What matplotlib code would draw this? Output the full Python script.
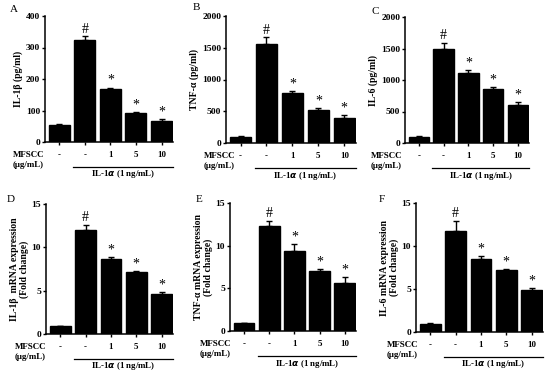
import matplotlib
matplotlib.use("Agg")
import matplotlib.pyplot as plt
import numpy as np

plt.rcParams['font.family'] = ['Liberation Serif', 'DejaVu Serif']
plt.rcParams['font.weight'] = 'bold'
plt.rcParams['mathtext.fontset'] = 'custom'

W, H = 550, 374
fig = plt.figure(figsize=(W / 100, H / 100), dpi=100)

dose_labels = ['-', '-', '1', '5', '10']

il1b_pg = [55, 323, 167, 92, 68]
il1b_pg_err = [3, 13, 6, 3, 5]
tnf_pg = [100, 1555, 790, 520, 392]
tnf_pg_err = [5, 110, 30, 35, 50]
il6_pg = [100, 1490, 1110, 860, 600]
il6_pg_err = [5, 100, 50, 25, 50]
il1b_mrna = [0.9, 12.0, 8.6, 7.1, 4.6]
il1b_mrna_err = [0.05, 0.6, 0.3, 0.12, 0.25]
tnf_mrna = [0.9, 12.3, 9.4, 7.0, 5.6]
tnf_mrna_err = [0.05, 0.6, 0.8, 0.3, 0.7]
il6_mrna = [0.9, 11.8, 8.5, 7.2, 4.9]
il6_mrna_err = [0.1, 1.1, 0.3, 0.15, 0.2]

sig_marks = ['', '#', '*', '*', '*']

panels = [
    ('A', il1b_pg, il1b_pg_err, 'IL-1β (pg/ml)', [0, 100, 200, 300, 400], (45, 16, 173, 142), (10, 10), 13),
    ('B', tnf_pg, tnf_pg_err, 'TNF-α (pg/ml)', [0, 500, 1000, 1500, 2000], (226, 16, 356, 143), (193, 8), 204),
    ('C', il6_pg, il6_pg_err, 'IL-6 (pg/ml)', [0, 500, 1000, 1500, 2000], (405, 17, 529, 143), (371, 11), 371),
    ('D', il1b_mrna, il1b_mrna_err, 'IL-1β  mRNA expression\n(Fold change)', [0, 5, 10, 15], (46, 204, 173, 334), (7, 200), 15),
    ('E', tnf_mrna, tnf_mrna_err, 'TNF-α mRNA expression\n(Fold change)', [0, 5, 10, 15], (230, 203, 356, 331), (196, 200), 200),
    ('F', il6_mrna, il6_mrna_err, 'IL-6 mRNA expression\n(Fold change)', [0, 5, 10, 15], (416, 203, 543, 332), (379, 200), 387),
]

fs = 6.4
for letter, vals, errs, ylab, yt, (l, t, r, b), (lx, ly), mx in panels:
    ax = fig.add_axes([l / W, 1 - b / H, (r - l) / W, (b - t) / H])
    x = np.arange(len(vals))
    ax.bar(x, vals, width=0.82, color='black', edgecolor='black', zorder=2)
    ax.errorbar(x, vals, yerr=[np.zeros(len(errs)), errs], fmt='none', ecolor='black',
                elinewidth=1.0, capsize=2.2, capthick=1.0, zorder=3)
    ax.set_xlim(-0.56, 4.45)
    ax.set_ylim(yt[0], yt[-1])
    ax.set_yticks(yt)
    ax.set_yticklabels([str(v) for v in yt], fontsize=6.8, fontweight='bold')
    ax.set_xticks(x)
    ax.set_xticklabels([])
    for s in ['top', 'right']:
        ax.spines[s].set_visible(False)
    for s in ['left', 'bottom']:
        ax.spines[s].set_linewidth(1.1)
    ax.tick_params(axis='both', direction='out', length=2.5, width=1.0, pad=1)
    ax.set_ylabel(ylab, fontsize=7, fontweight='bold', labelpad=2, linespacing=1.0)
    span = yt[-1] - yt[0]
    for xi, v, e, m in zip(x, vals, errs, sig_marks):
        if m:
            ax.text(xi, v + e + span * 0.005, m, ha='center', va='bottom',
                    fontsize=10 if m == '#' else 10, fontweight='normal')
    for xi, dl in zip(x, dose_labels):
        ax.annotate(dl, xy=(xi, 0), xycoords=('data', 'axes fraction'),
                    xytext=(0, -13), textcoords='offset pixels', ha='center', va='center',
                    fontsize=fs, fontweight='bold')
    fig.text(mx / W, 1 - (b + 13) / H, 'MFSCC', ha='left', va='center', fontsize=fs, fontweight='bold')
    fig.text(mx / W, 1 - (b + 23) / H, '(μg/mL)', ha='left', va='center', fontsize=fs, fontweight='bold')
    trans = matplotlib.transforms.blended_transform_factory(ax.transData, fig.transFigure)
    ly_line = 1 - (b + 25) / H
    ax.plot([0.55, 4.45], [ly_line, ly_line], transform=trans, color='black', lw=0.9, clip_on=False)
    ax.text(2.5, 1 - (b + 32.5) / H, 'IL-1$\\mathit{α}$ (1 ng/mL)', transform=trans,
            ha='center', va='center', fontsize=fs, fontweight='bold')
    fig.text(lx / W, 1 - ly / H, letter, ha='left', va='center', fontsize=8, fontweight='normal')

fig.savefig('out.png', dpi=100)
